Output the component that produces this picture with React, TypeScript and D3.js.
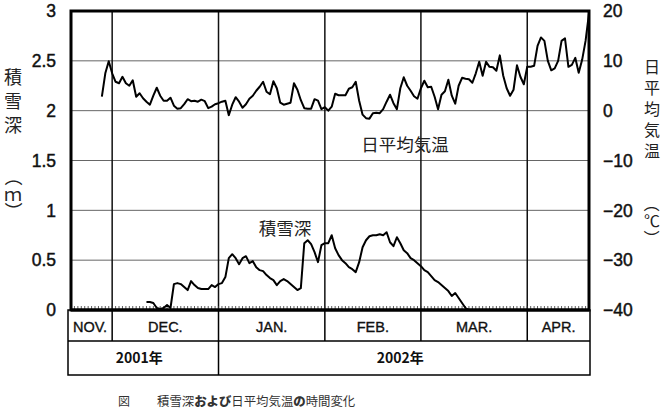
import React from "react";
import * as d3 from "d3";

// ---------- data ----------
const snowTicks = [0, 0.5, 1, 1.5, 2, 2.5, 3];
const snowTickLabels = ["0", "0.5", "1", "1.5", "2", "2.5", "3"];
const tempTicks = [-40, -30, -20, -10, 0, 10, 20];
const tempTickLabels = ["−40", "−30", "−20", "−10", "0", "10", "20"];
const monthLabels = ["NOV.", "DEC.", "JAN.", "FEB.", "MAR.", "APR."];
const monthStarts = ["2001-11-19", "2001-12-01", "2002-01-01", "2002-02-01", "2002-03-01", "2002-04-01"];
const periodEnd = "2002-04-19";
const yearLabels = ["2001年", "2002年"];
const yearStarts = ["2001-11-19", "2002-01-01"];

const tempStart = "2001-11-28";
const tempValues = [
  2.8, 7.5, 9.9, 7.5, 5.8, 5.5, 6.8, 5.5, 5.0, 6.1,
  2.8, 3.5, 2.5, 1.8, 1.2, 3.0, 4.6, 3.0, 2.0, 2.0,
  2.6, 1.0, 0.4, 0.5, 1.3, 2.3, 1.9, 2.0, 1.8, 2.2,
  1.9, 0.5, 0.8, 1.3, 1.5, 1.8, 2.0, -0.9, 1.2, 2.7,
  1.8, 0.6, 1.3, 2.4, 3.0, 4.0, 4.8, 5.8, 3.8, 3.3,
  5.9, 4.5, 1.6, 1.2, 1.4, 1.6, 5.5, 4.2, 2.1, 0.5,
  0.4, 0.4, 2.3, 2.0, 0.3, 0.7, 0.0, 0.8, 3.4, 3.1,
  3.1, 3.1, 4.4, 4.7, 5.8, 2.0, -0.8, -1.5, -1.6, -0.5,
  -0.4, -0.5, 0.3, 1.8, 3.2, 1.5, 0.3, 4.5, 6.7, 5.0,
  4.0, 2.9, 2.4, 4.5, 6.0, 4.7, 4.8, 2.8, 0.3, 3.2,
  3.9, 6.2, 3.0, 1.4, 5.0, 6.6, 6.4, 6.3, 5.6, 7.5,
  9.8, 7.0, 9.8, 8.8, 8.7, 8.0, 11.1, 7.0, 4.5, 3.0,
  4.2, 9.1, 6.8, 5.3, 8.8, 8.8, 9.0, 13.0, 14.7, 14.0,
  10.0, 8.1, 8.5, 10.0, 14.0, 14.5, 8.8, 9.2, 10.6, 7.6,
  10.2, 14.0, 19.5,
];

const snowStart = "2001-12-11";
const snowValues = [
  0.08, 0.08, 0.07, 0.02, 0.01, 0.02, 0.05, 0.02, 0.26, 0.27,
  0.26, 0.23, 0.20, 0.29, 0.25, 0.22, 0.21, 0.21, 0.21, 0.25,
  0.23, 0.26, 0.27, 0.33, 0.52, 0.56, 0.52, 0.46, 0.52, 0.54,
  0.47, 0.49, 0.43, 0.40, 0.39, 0.35, 0.32, 0.30, 0.25, 0.29,
  0.31, 0.29, 0.26, 0.23, 0.20, 0.22, 0.67, 0.70, 0.66, 0.58,
  0.48, 0.65, 0.67, 0.67, 0.75, 0.62, 0.55, 0.50, 0.47, 0.43,
  0.41, 0.38, 0.48, 0.63, 0.70, 0.74, 0.75, 0.75, 0.76, 0.75,
  0.78, 0.68, 0.64, 0.73, 0.67, 0.60, 0.57, 0.52, 0.50, 0.47,
  0.44, 0.40, 0.38, 0.34, 0.30, 0.28, 0.25, 0.22, 0.19, 0.14,
  0.17, 0.12, 0.07, 0.02, 0.0,
];

const leftTitle = "積雪深（ｍ）";
const rightTitleMain = "日平均気温";
const rightTitleUnit = "（℃）";
const tempLabel = "日平均気温";
const snowLabel = "積雪深";
const captionHead = "図";
const captionParts = [
  { t: "積雪深", b: false },
  { t: "および", b: true },
  { t: "日平均気温", b: false },
  { t: "の", b: true },
  { t: "時間変化", b: false },
];

// ---------- layout ----------
const W = 670, H = 414;
const L = 71, R = 589, T = 11, B = 310;
const tableL = 68, tableR = 590, row1B = 341, row2B = 375;
const LATIN = "'Liberation Sans', Arial, Helvetica, sans-serif";
const CJK = "'Noto Sans CJK JP', 'Noto Sans', sans-serif";

const parse = d3.timeParse("%Y-%m-%d");

export default function App() {
  const x = d3.scaleTime().domain([parse(monthStarts[0])!, parse(periodEnd)!]).range([L, R]);
  const ySnow = d3.scaleLinear().domain([0, 3]).range([B, T]);
  const yTemp = d3.scaleLinear().domain([-40, 20]).range([B, T]);

  const t0 = parse(tempStart)!;
  const tempData = tempValues.map((v, i) => ({ d: d3.timeDay.offset(t0, i), v }));
  const s0 = parse(snowStart)!;
  const snowData = snowValues.map((v, i) => ({ d: d3.timeDay.offset(s0, i), v }));

  const tempLine = d3.line<{ d: Date; v: number }>().x((p) => x(p.d)).y((p) => yTemp(p.v));
  const snowLine = d3.line<{ d: Date; v: number }>().x((p) => x(p.d)).y((p) => ySnow(p.v));

  const days = d3.timeDay.range(parse(monthStarts[0])!, parse(periodEnd)!);
  const mStarts = monthStarts.map((s) => parse(s)!);
  const yStarts = yearStarts.map((s) => parse(s)!);

  const monthCells = mStarts.map((d, i) => {
    const x0 = i === 0 ? tableL : x(d);
    const x1 = i === mStarts.length - 1 ? tableR : x(mStarts[i + 1]);
    return { x0, x1, label: monthLabels[i] };
  });
  const yearCells = yStarts.map((d, i) => {
    const x0 = i === 0 ? tableL : x(d);
    const x1 = i === yStarts.length - 1 ? tableR : x(yStarts[i + 1]);
    return { x0, x1, label: yearLabels[i] };
  });

  const leftChars = Array.from(leftTitle);
  const leftY = [78, 102, 126, 177, 195, 211];
  const rightUnitChars = Array.from(rightTitleUnit);
  const rightUnitY = [204, 221, 238];

  return (
    <svg
      width={W}
      height={H}
      viewBox={`0 0 ${W} ${H}`}
      style={{ position: "absolute", left: 0, top: 0, background: "#fff" }}
    >
      <rect x={0} y={0} width={W} height={H} fill="#fff" />
      {/* horizontal gridlines */}
      {snowTicks.map((t) => (
        <line key={"h" + t} x1={L} x2={R} y1={ySnow(t)} y2={ySnow(t)} stroke="#666" strokeWidth={1} />
      ))}
      {/* vertical month lines */}
      {mStarts.slice(1).map((d, i) => (
        <line key={"v" + i} x1={x(d)} x2={x(d)} y1={T} y2={B} stroke="#111" strokeWidth={1.5} />
      ))}
      {/* daily ticks */}
      {days.map((d, i) => (
        <line key={"t" + i} x1={x(d)} x2={x(d)} y1={B} y2={B - 4} stroke="#333" strokeWidth={0.8} />
      ))}
      {/* data lines */}
      <path d={tempLine(tempData) || ""} fill="none" stroke="#000" strokeWidth={2} strokeLinejoin="round" />
      <path d={snowLine(snowData) || ""} fill="none" stroke="#000" strokeWidth={2} strokeLinejoin="round" />
      {/* frame */}
      <rect x={L} y={T} width={R - L} height={B - T} fill="none" stroke="#000" strokeWidth={3} />
      {/* left tick labels */}
      {snowTicks.map((t, i) => (
        <text key={"lt" + t} x={56} y={ySnow(t)} dy="0.36em" textAnchor="end" fontFamily={LATIN} fontSize={17.5} fill="#111" stroke="#111" strokeWidth={0.45}>
          {snowTickLabels[i]}
        </text>
      ))}
      {/* right tick labels */}
      {tempTicks.map((t, i) => (
        <text key={"rt" + t} x={603} y={yTemp(t)} dy="0.36em" textAnchor="start" fontFamily={LATIN} fontSize={17.5} fill="#111" stroke="#111" strokeWidth={0.45}>
          {tempTickLabels[i]}
        </text>
      ))}
      {/* axis titles */}
      {leftChars.map((c, i) => {
        const paren = c === "（" || c === "）";
        return (
          <text
            key={"lc" + i}
            x={13}
            y={leftY[i]}
            dy="0.36em"
            textAnchor="middle"
            fontFamily={CJK}
            fontSize={18}
            fill="#222"
            transform={paren ? `rotate(90 13 ${leftY[i]})` : undefined}
          >
            {c}
          </text>
        );
      })}
      <text
        x={652}
        y={59}
        fontFamily={CJK}
        fontSize={16}
        fill="#222"
        style={{ writingMode: "vertical-rl", letterSpacing: "5px" }}
      >
        {rightTitleMain}
      </text>
      {rightUnitChars.map((c, i) => {
        const paren = c === "（" || c === "）";
        return (
          <text
            key={"ru" + i}
            x={652}
            y={rightUnitY[i]}
            dy="0.36em"
            textAnchor="middle"
            fontFamily={CJK}
            fontSize={16}
            fill="#222"
            transform={paren ? `rotate(90 652 ${rightUnitY[i]})` : undefined}
          >
            {c}
          </text>
        );
      })}
      {/* annotations */}
      <text x={405} y={145} dy="0.36em" textAnchor="middle" fontFamily={CJK} fontSize={17.5} fill="#222">
        {tempLabel}
      </text>
      <text x={285} y={229} dy="0.36em" textAnchor="middle" fontFamily={CJK} fontSize={17.5} fill="#222">
        {snowLabel}
      </text>
      {/* table */}
      <rect x={tableL} y={B} width={tableR - tableL} height={row2B - B} fill="none" stroke="#000" strokeWidth={1.5} />
      <line x1={tableL} x2={tableR} y1={row1B} y2={row1B} stroke="#000" strokeWidth={1.5} />
      <line x1={L} x2={R} y1={B} y2={B} stroke="#000" strokeWidth={3} />
      {monthCells.slice(1).map((c, i) => (
        <line key={"md" + i} x1={c.x0} x2={c.x0} y1={B} y2={row1B} stroke="#000" strokeWidth={1.5} />
      ))}
      {yearCells.slice(1).map((c, i) => (
        <line key={"yd" + i} x1={c.x0} x2={c.x0} y1={row1B} y2={row2B} stroke="#000" strokeWidth={1.5} />
      ))}
      {monthCells.map((c, i) => (
        <text key={"ml" + i} x={(c.x0 + c.x1) / 2} y={(B + row1B) / 2 + 1} dy="0.36em" textAnchor="middle" fontFamily={LATIN} fontSize={14.5} fill="#111" stroke="#111" strokeWidth={0.35}>
          {c.label}
        </text>
      ))}
      {yearCells.map((c, i) => (
        <text key={"yl" + i} x={(c.x0 + c.x1) / 2 - 4} y={(row1B + row2B) / 2} dy="0.36em" textAnchor="middle" fontFamily={CJK} fontSize={14} fontWeight={700} fill="#111">
          {c.label}
        </text>
      ))}
      {/* caption */}
      <text x={118} y={406} fontFamily={CJK} fontSize={12} fill="#333">
        {captionHead}
      </text>
      <text x={157} y={406} fontFamily={CJK} fontSize={12.4} fill="#333">
        {captionParts.map((p, i) => (
          <tspan key={"cp" + i} fontWeight={p.b ? 900 : 400}>
            {p.t}
          </tspan>
        ))}
      </text>
    </svg>
  );
}
